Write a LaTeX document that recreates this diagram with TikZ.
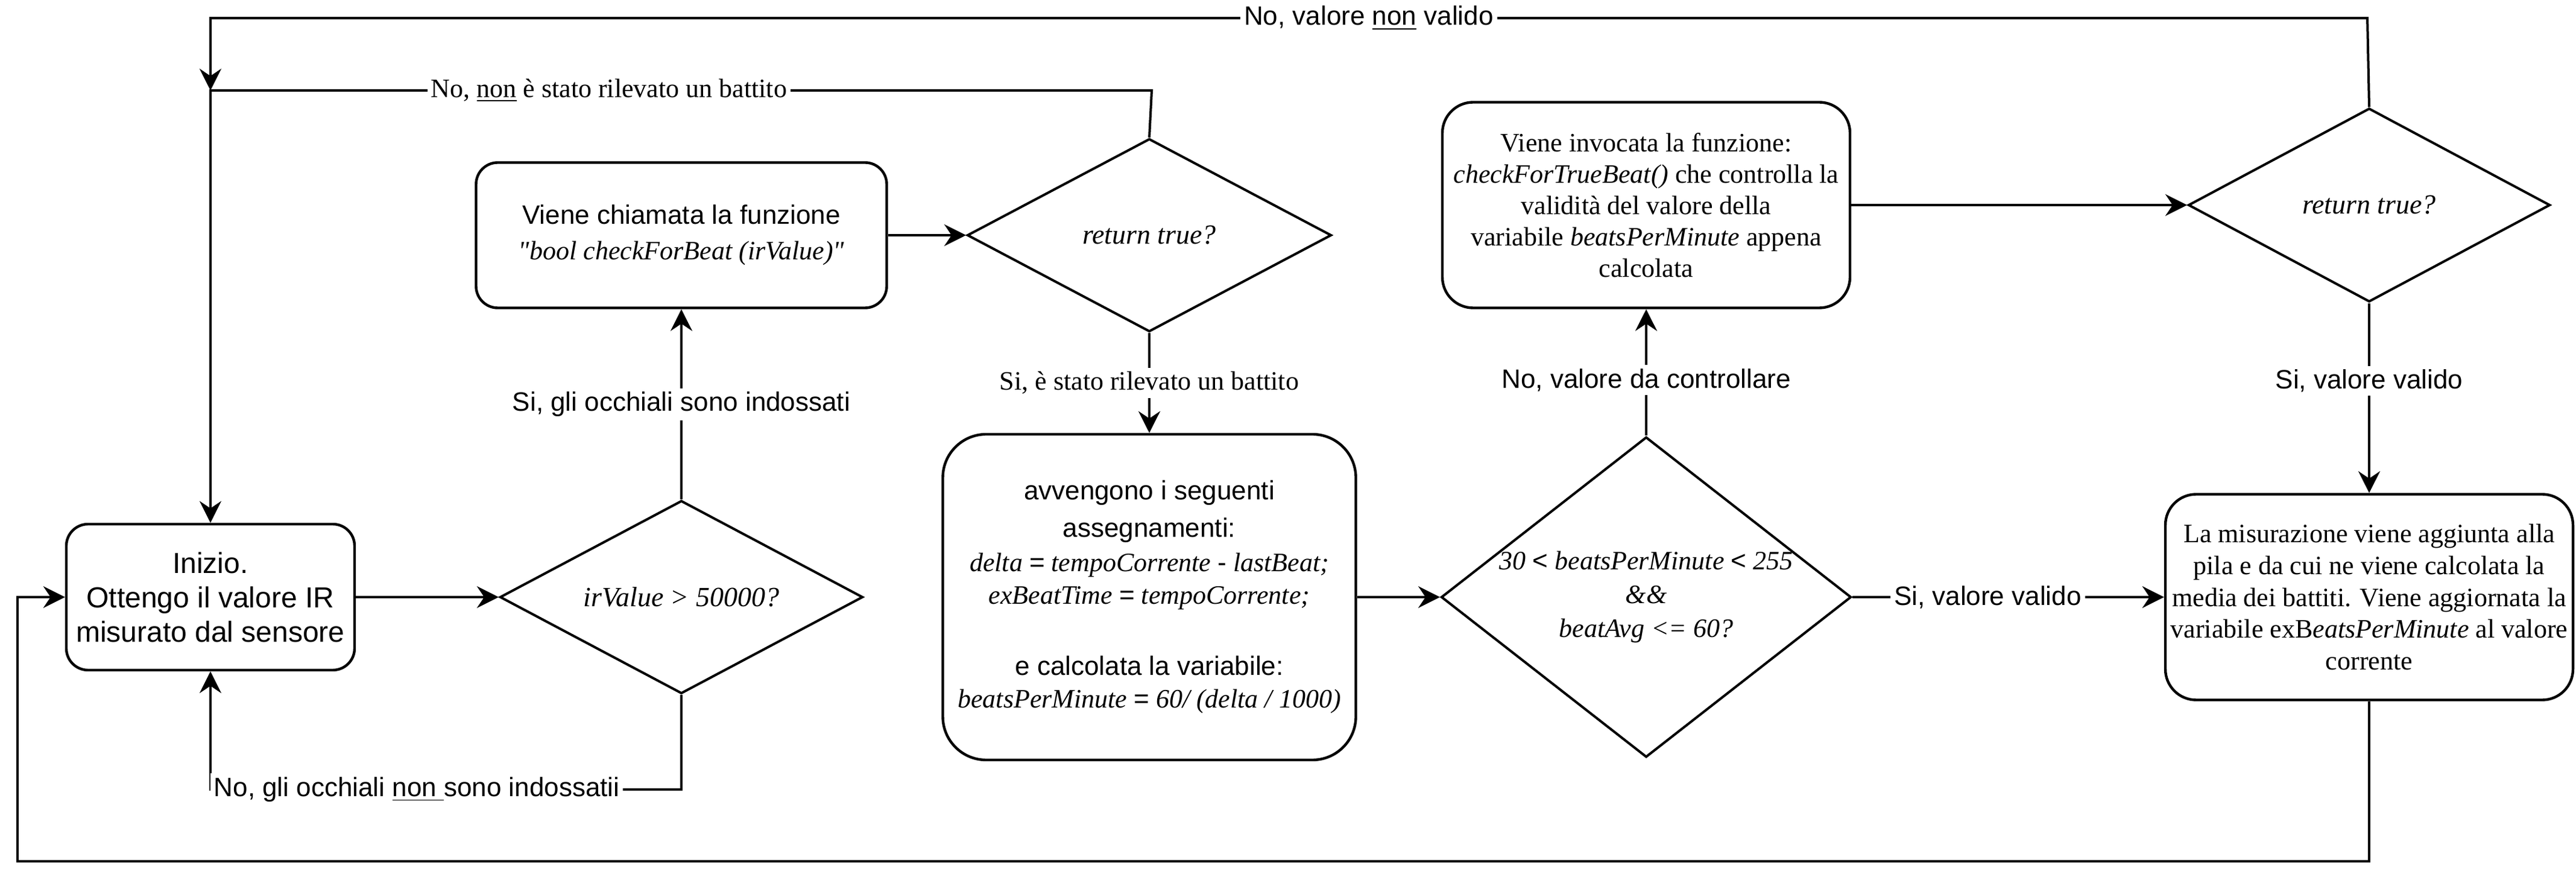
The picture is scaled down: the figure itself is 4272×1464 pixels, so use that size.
\documentclass[tikz,border=0pt]{standalone}
\usepackage{fontspec}
\setmainfont{Liberation Serif}
\newfontfamily\arial{Liberation Sans}
\newfontfamily\rawserif[Ligatures=TeXOff]{Liberation Serif}
\usetikzlibrary{shapes.geometric,arrows.meta}
\newcommand\myArialXI{\arial\fontsize{11}{13.2}\selectfont}
\newcommand\mySerifXI{\fontsize{11}{13.2}\selectfont}
\newcommand\dq{{\rawserif\itshape"}}
\begin{document}
\begin{tikzpicture}[x=0.25pt,y=-0.25pt,
  box/.style={draw, line width=1.1pt, align=center, inner sep=0pt},
  dia/.style={draw, diamond, line width=1pt, inner sep=0pt},
  txt/.style={align=center, inner sep=0pt},
  lbl/.style={fill=white, inner sep=1.5pt, font=\myArialXI},
  lbls/.style={fill=white, inner sep=1.5pt, font=\mySerifXI},
  arr/.style={line width=1pt, -{Stealth[length=9pt,width=9pt,inset=3pt]}}]
\useasboundingbox[fill=white] (0,0) rectangle (4272,1464);

% boxes
\node[box, rounded corners=9pt, minimum width=119.5pt, minimum height=60.5pt,
  font={\arial\fontsize{12}{14.25}\selectfont}] (A) at (349,990)
  {Inizio.\\Ottengo il valore IR\\misurato dal sensore};
\node[box, rounded corners=9pt, minimum width=170.25pt, minimum height=60.25pt,
  font={\fontsize{11}{14.75}\selectfont}] (B) at (1130,390)
  {{\arial Viene chiamata la funzione}\\\dq\textit{bool checkForBeat (irValue)}\dq};
\node[box, rounded corners=18pt, minimum width=171.25pt, minimum height=135pt,
  font={\fontsize{11}{13.5}\selectfont}] (C) at (1906,990)
  {{\arial avvengono i seguenti}\\[2pt]{\arial assegnamenti:}\\[0.75pt]
   \textit{delta} {\arial =} \textit{tempoCorrente} {\arial -} \textit{lastBeat;}\\
   \textit{exBeatTime} {\arial =} \textit{tempoCorrente;}\\[16pt]
   {\arial e calcolata la variabile:}\\
   \textit{beatsPerMinute} {\arial =} \textit{60/ (delta / 1000)}};
\node[box, rounded corners=12.75pt, minimum width=169pt, minimum height=85.25pt,
  font={\fontsize{11}{13}\selectfont}] (E) at (2730,340)
  {Viene invocata la funzione:\\\textit{checkForTrueBeat()} che controlla la\\validità del valore della\\variabile \textit{beatsPerMinute} appena\\calcolata};
\node[box, rounded corners=12.75pt, minimum width=169pt, minimum height=85.25pt,
  font={\fontsize{11}{13.2}\selectfont}] (F) at (3929,990)
  {La misurazione viene aggiunta alla\\pila e da cui ne viene calcolata la\\media dei battiti. Viene aggiornata la\\variabile exB\textit{eatsPerMinute} al valore\\corrente};

% diamonds
\node[dia, minimum width=150.5pt, minimum height=80pt] (D1) at (1130,990) {};
\node[txt, font={\fontsize{11.5}{13.8}\selectfont}] (T1) at (D1) {\textit{irValue > 50000?}};
\node[dia, minimum width=151pt, minimum height=80pt] (D2) at (1906,390) {};
\node[txt, font={\fontsize{11.5}{13.8}\selectfont}] (T2) at (D2) {\textit{return true?}};
\node[dia, minimum width=170pt, minimum height=132.75pt] (D3) at (2730,990) {};
\node[txt, font={\fontsize{11}{13.9}\selectfont}] (T3) at (D3)
  {\textit{30} {\arial <} \textit{beatsPerMinute} {\arial <} \textit{255}\\\textit{\&\&}\\\textit{beatAvg <= 60?}};
\node[dia, minimum width=150pt, minimum height=80.25pt] (D4) at (3929,340) {};
\node[txt, font={\fontsize{11.5}{13.8}\selectfont}] (T4) at (D4) {\textit{return true?}};

% bend points
\coordinate (c1) at (1130,1309);
\coordinate (c2) at (349,1309);
\coordinate (c3) at (1910,150);
\coordinate (c4) at (349,150);
\coordinate (c5) at (3926,30);
\coordinate (c6) at (349,30);
\coordinate (c7) at (3929,1428);
\coordinate (c8) at (29,1428);
\coordinate (c9) at (29,990);

% connectors
\draw[arr] (A) -- (D1);
\draw[arr] (D1) -- node[lbl]{Si, gli occhiali sono indossati} (B);
\draw[arr] (D1.south) -- (c1) -- node[lbl, pos=0.562]{No, gli occhiali \underline{non }sono indossatii} (c2) -- (A.south);
\draw[arr] (B) -- (D2);
\draw[arr] (D2) -- node[lbls]{Si, è stato rilevato un battito} (C);
\draw[arr] (D2.north) -- (c3) -- node[lbls, pos=0.5766]{No, \underline{non} è stato rilevato un battito} (c4) -- (A.north);
\draw[arr] (D4.north) -- (c5) -- node[lbl, pos=0.463]{No, valore \underline{non} valido} (c6) -- (c4);
\draw[arr] (C) -- (D3);
\draw[arr] (D3) -- node[lbl, pos=0.44]{No, valore da controllare} (E);
\draw[arr] (E) -- (D4);
\draw[arr] (D4) -- node[lbl, pos=0.41]{Si, valore valido} (F);
\draw[arr] (D3) -- node[lbl, pos=0.434]{Si, valore valido} (F);
\draw[arr] (F.south) -- (c7) -- (c8) -- (c9) -- (A.west);
\end{tikzpicture}
\end{document}
